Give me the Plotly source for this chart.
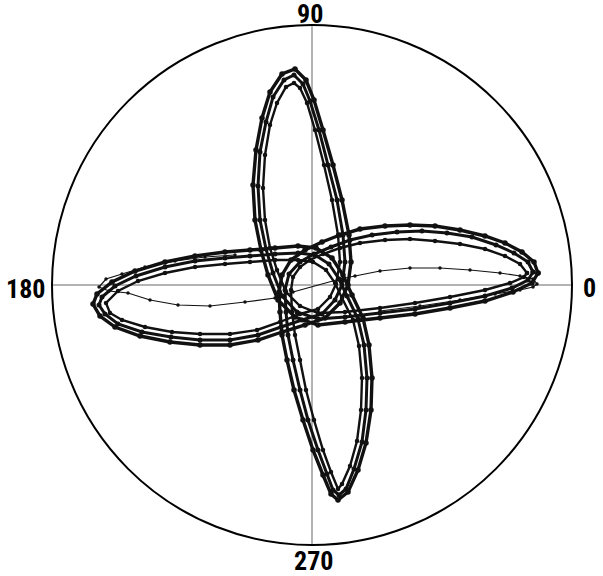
import numpy as np
import plotly.graph_objects as go

# Traced loops of the four-lobed pattern, stored as horizontal / vertical
# components in radial units (outer circle = 26). Converted to r/theta below.

# outer edge of the band
curve_a_x = [22.6, 22.2, 21.0, 19.3, 17.3, 14.8, 12.3, 9.8, 7.3, 4.8, 2.8, 1.0,
             -0.7, -2.1, -3.0, -3.3,
             -3.2, -3.0, -2.5, -1.8, -0.9, 0.1, 1.1, 1.9, 2.6,
             3.6, 4.6, 5.4, 5.9, 6.0, 5.7, 5.1,
             4.0, 3.1, 2.0, 0.4, -1.4,
             -3.7, -6.2, -8.7, -11.7, -14.7, -17.7, -20.0, -21.5, -21.9,
             -21.2, -19.7, -17.2, -14.2, -11.2, -8.2, -5.4, -3.0,
             -0.7, 1.3, 2.8, 3.6,
             3.9, 3.7, 3.0, 2.1, 1.1, 0.2, -0.6, -1.7,
             -3.0, -4.2, -5.0, -5.6, -5.9, -5.7, -5.1,
             -4.4, -3.4, -1.7, 0.6,
             3.3, 6.8, 10.3, 13.8, 17.3, 20.1, 22.0, 22.6]
curve_a_y = [1.2, 2.3, 3.3, 4.2, 4.9, 5.5, 5.9, 6.0, 5.9, 5.6, 5.0, 4.3,
             3.5, 2.5, 1.0, -0.7,
             -2.7, -5.0, -7.5, -10.5, -13.5, -16.5, -19.0, -20.9, -21.5,
             -20.7, -18.5, -15.8, -12.5, -9.3, -6.0, -3.3,
             -1.0, 1.0, 2.7, 3.7, 3.9,
             3.7, 3.5, 3.3, 2.9, 2.3, 1.4, 0.3, -0.9, -1.9,
             -3.1, -4.2, -5.1, -5.7, -6.0, -6.0, -5.5, -4.7,
             -4.0, -3.3, -1.8, 0.0,
             2.3, 5.0, 8.5, 12.0, 15.5, 18.5, 20.5, 21.6,
             21.1, 19.3, 16.7, 13.5, 10.0, 6.5, 3.5,
             1.0, -1.5, -3.2, -4.0,
             -3.7, -3.3, -2.9, -2.3, -1.6, -0.7, 0.2, 1.2]

# middle of the band
curve_c_x = [22.1, 21.6, 20.2, 18.4, 16.0, 13.5, 11.0, 8.5, 6.0, 3.8, 1.9,
             0.2, -1.2, -2.3, -2.7,
             -2.6, -2.4, -1.9, -1.2, -0.4, 0.6, 1.5, 2.1, 2.7,
             3.4, 4.2, 5.0, 5.4, 5.5, 5.2, 4.6,
             3.5, 2.7, 1.7, 0.3, -1.4,
             -3.7, -6.2, -8.7, -11.7, -14.7, -17.6, -19.7, -21.0, -21.3,
             -20.7, -19.4, -17.0, -14.1, -11.2, -8.2, -5.4, -3.1,
             -1.0, 1.0, 2.3, 3.0,
             3.3, 3.1, 2.5, 1.6, 0.7, -0.2, -0.9, -1.8,
             -2.8, -3.9, -4.6, -5.2, -5.4, -5.2, -4.6,
             -3.9, -3.0, -1.5, 0.6,
             3.3, 6.8, 10.3, 13.8, 17.3, 20.0, 21.6, 22.1]
curve_c_y = [1.3, 2.3, 3.2, 4.0, 4.8, 5.2, 5.4, 5.3, 5.0, 4.5, 3.8,
             3.1, 2.3, 1.1, -0.5,
             -2.7, -5.0, -7.5, -10.5, -13.5, -16.5, -18.9, -20.5, -21.0,
             -20.4, -18.4, -15.7, -12.5, -9.3, -6.0, -3.4,
             -1.1, 0.6, 2.1, 3.0, 3.2,
             3.1, 2.9, 2.7, 2.4, 1.8, 0.9, -0.1, -1.2, -2.0,
             -2.9, -3.9, -4.7, -5.2, -5.5, -5.5, -5.0, -4.2,
             -3.5, -2.9, -1.5, 0.0,
             2.3, 5.0, 8.5, 12.0, 15.5, 18.4, 20.1, 21.0,
             20.5, 18.8, 16.3, 13.3, 9.9, 6.5, 3.6,
             1.2, -1.1, -2.7, -3.4,
             -3.2, -2.8, -2.4, -1.8, -1.1, -0.3, 0.5, 1.3]

# inner edge of the band
curve_b_x = [21.5, 20.8, 19.3, 17.3, 14.8, 12.3, 9.8, 7.3, 4.8, 2.8, 1.1,
             -0.2, -1.2, -1.9, -2.1,
             -2.0, -1.7, -1.2, -0.6, 0.2, 1.1, 1.9, 2.6,
             3.0, 3.8, 4.5, 4.9, 5.0, 4.7, 4.1,
             3.0, 2.3, 1.4, 0.1, -1.4,
             -3.7, -6.2, -8.7, -11.7, -14.7, -17.4, -19.4, -20.6,
             -20.2, -19.0, -16.7, -14.0, -11.2, -8.2, -5.5, -3.2,
             -1.2, 0.6, 1.8, 2.4,
             2.8, 2.6, 2.0, 1.2, 0.3, -0.5, -1.2, -1.8,
             -2.6, -3.5, -4.2, -4.7, -4.9, -4.7, -4.2,
             -3.5, -2.6, -1.2, 0.6,
             3.3, 6.8, 10.3, 13.8, 17.3, 19.8, 21.2, 21.5]
curve_b_y = [1.2, 2.1, 2.9, 3.6, 4.1, 4.4, 4.6, 4.5, 4.2, 3.7, 3.1,
             2.5, 1.8, 0.8, -0.5,
             -2.7, -5.0, -7.5, -10.5, -13.5, -16.5, -18.7, -20.4,
             -19.9, -18.1, -15.6, -12.5, -9.3, -6.1, -3.5,
             -1.3, 0.2, 1.5, 2.3, 2.5,
             2.5, 2.3, 2.1, 1.8, 1.2, 0.4, -0.6, -1.8,
             -2.8, -3.5, -4.2, -4.7, -4.9, -4.9, -4.5, -3.7,
             -2.9, -2.4, -1.2, 0.1,
             2.3, 5.0, 8.5, 12.0, 15.5, 18.2, 19.7, 20.2,
             19.8, 18.2, 16.0, 13.0, 9.7, 6.5, 3.7,
             1.5, -0.7, -2.1, -2.8,
             -2.7, -2.3, -1.8, -1.2, -0.5, 0.2, 0.8, 1.2]

# the run that cuts straight through the middle
curve_d_x = [6.8, 10.8, 14.8, 18.3, 20.8, 22.1, 22.5, 22.1, 20.8, 18.8, 15.8,
             12.8, 9.8, 6.8, 4.3, 2.8,
             -1.9, -3.7, -6.7, -10.2, -13.4, -16.2, -18.4, -20.3, -21.3,
             -20.6, -19.0, -16.7, -13.7, -10.7, -7.7]
curve_d_y = [-2.6, -2.1, -1.5, -0.9, -0.5, -0.2, 0.1, 0.6, 0.9, 1.2, 1.5,
             1.7, 1.7, 1.4, 0.9, 0.6,
             -0.7, -1.3, -1.7, -2.1, -2.0, -1.5, -0.8, -0.6, -0.2,
             0.6, 1.1, 1.8, 2.4, 2.8, 3.0]

angle_ticks = [0, 90, 180, 270]
angle_labels = ["0", "90", "180", "270"]

curves = [
    (curve_a_x, curve_a_y, 3.4, 5.5),
    (curve_c_x, curve_c_y, 3.0, 5),
    (curve_b_x, curve_b_y, 2.4, 4.5),
    (curve_d_x, curve_d_y, 1.2, 3.5),
]

fig = go.Figure()
for cx, cy, lw, ms in curves:
    cx = np.array(cx)
    cy = np.array(cy)
    fig.add_trace(go.Scatterpolar(
        r=np.hypot(cx, cy),
        theta=np.degrees(np.arctan2(cy, cx)),
        mode="lines+markers",
        line=dict(color="#111111", width=lw),
        marker=dict(color="#111111", size=ms),
        showlegend=False,
        hoverinfo="skip",
    ))

label_font = dict(family="Roboto Condensed, Noto Sans Condensed, Liberation Sans Narrow, Liberation Sans",
                  size=26, color="black", weight="bold")
# angle labels set by hand so they sit as close to the circle as in the original
label_pos = {"0": (1.033, 0.494), "90": (0.497, 1.021),
             "180": (-0.051, 0.493), "270": (0.503, -0.031)}
for lab in angle_labels:
    lx, ly = label_pos[lab]
    fig.add_annotation(x=lx, y=ly, xref="paper", yref="paper", text=lab,
                       showarrow=False, xanchor="center", yanchor="middle",
                       font=label_font)

fig.update_layout(
    width=603,
    height=576,
    margin=dict(l=52, r=31, t=25, b=31),
    paper_bgcolor="white",
    plot_bgcolor="white",
    polar=dict(
        bgcolor="white",
        domain=dict(x=[0, 1], y=[0, 1]),
        radialaxis=dict(
            range=[0, 26],
            showticklabels=False,
            ticks="",
            showgrid=False,
            showline=False,
        ),
        angularaxis=dict(
            direction="counterclockwise",
            rotation=0,
            tickmode="array",
            tickvals=angle_ticks,
            showticklabels=False,
            ticks="",
            showgrid=True,
            gridcolor="#b3b3b3",
            gridwidth=2,
            showline=True,
            linecolor="black",
            linewidth=2,
        ),
    ),
)

# drop the browser's default body margin so the figure sits at the page corner
fig.write_html("out.html", config={"displayModeBar": False},
               post_script="document.body.style.margin = '0';")
